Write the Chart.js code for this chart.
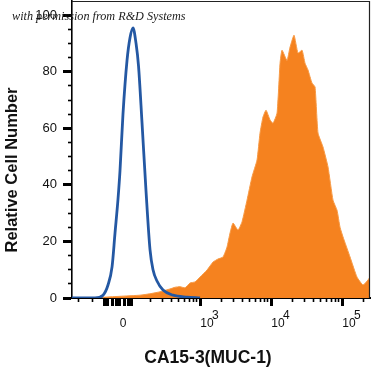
<!DOCTYPE html>
<html>
<head>
<meta charset="utf-8">
<script src="https://cdn.jsdelivr.net/npm/chart.js@4.4.1/dist/chart.umd.min.js"></script>
<style>
  html, body { margin: 0; padding: 0; background: #ffffff; }
  canvas { display: block; }
</style>
</head>
<body>
<canvas id="chart" width="372" height="373"></canvas>
<script>
// ---- Data (x in display decades of the biexponential CA15-3 axis) ----
const X_MIN = 1.197, X_MAX = 5.394;
const Y_MIN = 0, Y_MAX = 105;

// Isotype control (blue outline)
const ISOTYPE_X = [1.197, 1.521, 1.634, 1.704, 1.761, 1.803, 1.845, 1.873, 1.915, 1.972, 2.014, 2.056, 2.099, 2.134, 2.183, 2.239, 2.296, 2.338, 2.394, 2.479, 2.620, 2.817, 3.000];
const ISOTYPE_Y = [0, 0, 1, 4.6, 11, 23, 35, 45, 65, 84, 92, 95.5, 90, 82, 62, 38, 17, 10, 6, 2.8, 1, 0.3, 0];

// CA15-3 (MUC-1) stained cells (orange filled)
const CA153_X = [1.592, 1.662, 1.873, 2.155, 2.296, 2.437, 2.577, 2.648, 2.718, 2.789, 2.859, 2.930, 3.000, 3.099, 3.183, 3.254, 3.324, 3.380, 3.423, 3.465, 3.535, 3.592, 3.662, 3.732, 3.803, 3.845, 3.887, 3.930, 3.986, 4.028, 4.085, 4.127, 4.155, 4.225, 4.268, 4.324, 4.380, 4.437, 4.479, 4.521, 4.577, 4.620, 4.662, 4.732, 4.803, 4.873, 4.930, 4.972, 5.014, 5.113, 5.211, 5.296, 5.366, 5.394];
const CA153_Y = [0, 0.3, 0.6, 1.0, 1.5, 2.2, 3.2, 3.8, 4.0, 3.6, 5.3, 5.7, 7.4, 9.9, 12.7, 13.8, 14.5, 18, 23, 26.5, 24, 27, 34.6, 42.8, 48.8, 58.3, 64, 66.4, 63, 61.8, 65.4, 83, 87.6, 84, 88.7, 92.9, 86.6, 87.6, 83, 80.6, 76, 74.6, 58.3, 53.4, 46.3, 34.6, 31, 25, 21.6, 14.5, 7.4, 4.6, 6.4, 7.4];

// ---- Ticks ----
const X_MAJOR_TICKS = [1.648, 1.704, 1.761, 1.817, 1.873, 1.930, 1.986, 2.042, 3, 4, 5];
const X_MAJOR_LABELS = ['', '', '', '0', '', '', '', '', '3', '4', '5']; // '0' or decade exponent of 10
const X_MINOR_TICKS = [1.282, 1.479,
  2.301, 2.477, 2.602, 2.699, 2.778, 2.845, 2.903, 2.954,
  3.301, 3.477, 3.602, 3.699, 3.778, 3.845, 3.903, 3.954,
  4.301, 4.477, 4.602, 4.699, 4.778, 4.845, 4.903, 4.954,
  5.301];
const Y_MAJOR_TICKS = [0, 20, 40, 60, 80, 100];
const Y_MINOR_TICKS = [5, 10, 15, 25, 30, 35, 45, 50, 55, 65, 70, 75, 85, 90, 95];

const X_TITLE = 'CA15-3(MUC-1)';
const Y_TITLE = 'Relative Cell Number';
const CREDIT = 'with permission from R&D Systems';

const SANS = '"Liberation Sans", Arial, Helvetica, sans-serif';

function xLabel(i) {
  const l = X_MAJOR_LABELS[i];
  if (!l) return '';
  if (l === '0') return ['', '0'];
  return ['     ' + l, '10'];
}

const toPoints = (xs, ys) => xs.map((x, i) => ({ x: x, y: ys[i] }));

const annotate = {
  id: 'annotate',
  afterDraw(chart) {
    const ctx = chart.ctx, a = chart.chartArea;
    ctx.save();
    // top and right frame
    ctx.strokeStyle = '#222';
    ctx.lineWidth = 1.2;
    ctx.beginPath();
    ctx.moveTo(a.left, a.top + 0.5);
    ctx.lineTo(a.right - 0.5, a.top + 0.5);
    ctx.lineTo(a.right - 0.5, a.bottom);
    ctx.stroke();
    // axis titles
    ctx.fillStyle = '#111';
    ctx.textAlign = 'center';
    ctx.textBaseline = 'middle';
    ctx.font = 'bold 17.5px ' + SANS;
    ctx.fillText(X_TITLE, 208, 358);
    ctx.save();
    ctx.translate(12, 170);
    ctx.rotate(-Math.PI / 2);
    ctx.font = 'bold 16.5px ' + SANS;
    ctx.fillText(Y_TITLE, 0, 0);
    ctx.restore();
    // credit line
    ctx.fillStyle = '#1a1a1a';
    ctx.textAlign = 'left';
    ctx.textBaseline = 'alphabetic';
    ctx.font = 'italic 12.2px "Liberation Serif", "DejaVu Serif", serif';
    ctx.fillText(CREDIT, 12, 20);
    ctx.restore();
  }
};

new Chart(document.getElementById('chart'), {
  type: 'line',
  data: {
    datasets: [
      {
        label: 'Isotype control',
        data: toPoints(ISOTYPE_X, ISOTYPE_Y),
        borderColor: '#2458a3',
        borderWidth: 2.8,
        pointRadius: 0,
        fill: false,
        cubicInterpolationMode: 'monotone'
      },
      {
        label: 'CA15-3 (MUC-1)',
        data: toPoints(CA153_X, CA153_Y),
        borderColor: '#f79a45',
        backgroundColor: '#f5821f',
        borderWidth: 1,
        pointRadius: 0,
        fill: 'origin',
        tension: 0.15
      }
    ]
  },
  options: {
    responsive: false,
    animation: false,
    events: [],
    layout: { padding: { top: 1, right: 2, left: 0, bottom: 0 } },
    plugins: { legend: { display: false }, tooltip: { enabled: false }, title: { display: false } },
    scales: {
      x: {
        type: 'linear',
        position: 'bottom',
        min: X_MIN, max: X_MAX,
        afterBuildTicks: s => { s.ticks = X_MAJOR_TICKS.map(v => ({ value: v })); },
        afterFit: s => { s.height = 75; s.paddingLeft = 0; s.paddingRight = 0; },
        ticks: {
          autoSkip: false, maxRotation: 0, minRotation: 0,
          padding: 6, labelOffset: 7,
          color: '#111',
          font: { family: SANS, size: 12, lineHeight: 0.65 },
          callback: (v, i) => xLabel(i)
        },
        grid: { drawOnChartArea: false, tickLength: 8, tickWidth: 3, tickColor: '#000' },
        border: { display: true, color: '#000', width: 2 }
      },
      xMinor: {
        type: 'linear',
        position: { y: 0 },
        min: X_MIN, max: X_MAX,
        afterBuildTicks: s => { s.ticks = X_MINOR_TICKS.map(v => ({ value: v })); },
        ticks: { display: false, autoSkip: false, maxRotation: 0 },
        grid: { drawOnChartArea: false, tickLength: 4, tickWidth: 1.6, tickColor: '#000' },
        border: { display: false }
      },
      y: {
        type: 'linear',
        position: 'left',
        min: Y_MIN, max: Y_MAX,
        afterBuildTicks: s => { s.ticks = Y_MAJOR_TICKS.map(v => ({ value: v })); },
        afterFit: s => { s.width = 72; s.paddingTop = 0; s.paddingBottom = 0; },
        ticks: {
          autoSkip: false, padding: 6,
          color: '#111',
          font: { family: SANS, size: 13 }
        },
        grid: { drawOnChartArea: false, tickLength: 9, tickWidth: 3, tickColor: '#000' },
        border: { display: true, color: '#000', width: 1.6 }
      },
      yMinor: {
        type: 'linear',
        position: { x: X_MIN },
        min: Y_MIN, max: Y_MAX,
        afterBuildTicks: s => { s.ticks = Y_MINOR_TICKS.map(v => ({ value: v })); },
        ticks: { display: false, autoSkip: false },
        grid: { drawOnChartArea: false, tickLength: 4, tickWidth: 1.6, tickColor: '#000' },
        border: { display: false }
      }
    }
  },
  plugins: [annotate]
});
</script>
</body>
</html>
